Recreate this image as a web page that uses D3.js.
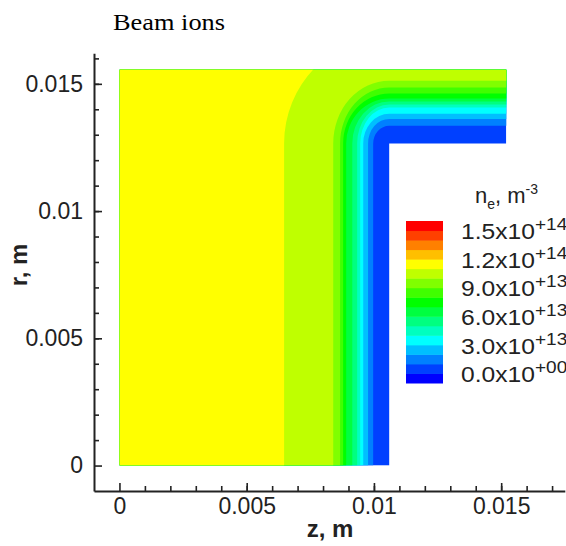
<!DOCTYPE html>
<html>
<head>
<meta charset="utf-8">
<script src="https://cdn.jsdelivr.net/npm/d3@7"></script>
<style>
body { margin: 0; background: #fff; }
svg { display: block; }
.axis text { font-family: 'Liberation Sans', Arial, sans-serif; font-size: 23px; fill: #222; }
.axis path { stroke: #222; stroke-width: 2; }
.axis line { stroke: #222; stroke-width: 1.6; }
.label { font-family: 'Liberation Sans', Arial, sans-serif; font-size: 24px; font-weight: bold; fill: #222; }
.legend text { font-family: 'Liberation Sans', Arial, sans-serif; fill: #222; }
</style>
</head>
<body>
<svg width="566" height="546"></svg>
<script>
// computed region (m): z from 0 to end, r from 0 to top, minus the wall notch
const domainZ = [0, 0.0152];
const domainR = [0, 0.01555];
const wallCorner = [0.0106, 0.01266];

// density levels (x1e13 m^-3) and the distance from the wall where each is reached
const wallBand = 1;
const levels = [2, 3, 4, 5, 6, 7, 8, 9, 10, 11, 12];
const levelDistZ = [0.00063, 0.00083, 0.00102, 0.00114, 0.00126, 0.00145, 0.00169, 0.00181, 0.00193, 0.0022, 0.00413];
const levelDistR = [0.00069, 0.00096, 0.00116, 0.00141, 0.00153, 0.00165, 0.00176, 0.00196, 0.0022, 0.00246, 0.0042];

// legend
const legendLevels = [0, 1, 2, 3, 4, 5, 6, 7, 8, 9, 10, 11, 12, 13, 14, 15, 16];
const legendLabels = [
    { level: 0, mant: '0.0', exp: '+00' },
    { level: 3, mant: '3.0', exp: '+13' },
    { level: 6, mant: '6.0', exp: '+13' },
    { level: 9, mant: '9.0', exp: '+13' },
    { level: 12, mant: '1.2', exp: '+14' },
    { level: 15, mant: '1.5', exp: '+14' }
];

const zTicks = [0, 0.005, 0.01, 0.015];
const rTicks = [0, 0.005, 0.01, 0.015];

const svg = d3.select('svg');

const x = d3.scaleLinear().domain([-0.001, 0.0175]).range([94, 564.8]);
const y = d3.scaleLinear().domain([-0.001, 0.0162]).range([491, 53.3]);

// tecplot-like rainbow
const color = d3.scaleLinear()
    .domain([0, 4, 8, 12, 16])
    .range(['#0000ff', '#00ffff', '#00ff00', '#ffff00', '#ff0000']);

// L-shaped region clip
const x0 = x(domainZ[0]), x1 = x(domainZ[1]);
const y0 = y(domainR[0]), y1 = y(domainR[1]);
const cx = x(wallCorner[0]), cy = y(wallCorner[1]);

svg.append('defs').append('clipPath')
    .attr('id', 'region')
    .append('path')
    .attr('d', `M${x0},${y0}L${cx},${y0}L${cx},${cy}L${x1},${cy}L${x1},${y1}L${x0},${y1}Z`);

const field = svg.append('g').attr('clip-path', 'url(#region)');

field.append('rect')
    .attr('x', x0)
    .attr('y', y1)
    .attr('width', x1 - x0)
    .attr('height', y0 - y1)
    .attr('fill', color(wallBand));

function bandPath(dz, dr) {
    const rx = x(dz) - x(0);
    const ry = y(0) - y(dr);
    const top = y1 - 40;
    return `M${x0},${y0}L${cx - rx},${y0}L${cx - rx},${cy}` +
        `A${rx},${ry} 0 0 1 ${cx},${cy - ry}` +
        `L${x1 + 5},${cy - ry}L${x1 + 5},${top}L${x0},${top}Z`;
}

field.selectAll('path.band')
    .data(levels)
    .enter()
    .append('path')
    .attr('class', 'band')
    .attr('d', (l, i) => bandPath(levelDistZ[i], levelDistR[i]))
    .attr('fill', (l) => color(l));

// axes
const fmt = d3.format('~g');

svg.append('g')
    .attr('class', 'axis')
    .attr('transform', `translate(0, ${y(-0.001)})`)
    .call(d3.axisBottom(x)
        .tickValues(d3.range(1, 18).map((d) => d / 1000))
        .tickSizeInner(-5)
        .tickSizeOuter(0)
        .tickFormat(''));

svg.append('g')
    .attr('class', 'axis')
    .attr('transform', `translate(${x(-0.001)}, 0)`)
    .call(d3.axisLeft(y)
        .tickValues(d3.range(1, 17).map((d) => d / 1000))
        .tickSizeInner(-5)
        .tickSizeOuter(0)
        .tickFormat(''));

svg.append('g')
    .attr('class', 'axis')
    .attr('transform', `translate(0, ${y(-0.001)})`)
    .call(d3.axisBottom(x)
        .tickValues(zTicks)
        .tickSizeInner(-8)
        .tickSizeOuter(0)
        .tickPadding(7)
        .tickFormat(fmt))
    .call((g) => g.select('.domain').remove());

svg.append('g')
    .attr('class', 'axis')
    .attr('transform', `translate(${x(-0.001)}, 0)`)
    .call(d3.axisLeft(y)
        .tickValues(rTicks)
        .tickSizeInner(-8)
        .tickSizeOuter(0)
        .tickPadding(11)
        .tickFormat(fmt))
    .call((g) => g.select('.domain').remove());

svg.append('text')
    .attr('class', 'label')
    .attr('x', 330)
    .attr('y', 537)
    .attr('text-anchor', 'middle')
    .text('z, m');

svg.append('text')
    .attr('class', 'label')
    .attr('transform', 'translate(27, 265) rotate(-90)')
    .attr('text-anchor', 'middle')
    .text('r, m');

svg.append('text')
    .attr('x', 113)
    .attr('y', 30)
    .attr('font-family', "'Liberation Serif', 'Times New Roman', serif")
    .attr('font-size', 24)
    .attr('fill', '#000')
    .attr('textLength', 112)
    .attr('lengthAdjust', 'spacingAndGlyphs')
    .text('Beam ions');

// legend
const ly = d3.scaleLinear().domain([0, 17]).range([383, 221]);
const legend = svg.append('g').attr('class', 'legend');

legend.selectAll('rect')
    .data(legendLevels)
    .enter()
    .append('rect')
    .attr('x', 406)
    .attr('y', (l) => ly(l + 1))
    .attr('width', 37)
    .attr('height', (l) => ly(l) - ly(l + 1) + 0.5)
    .attr('fill', (l) => color(l));

const lab = legend.selectAll('text.lab')
    .data(legendLabels)
    .enter()
    .append('text')
    .attr('class', 'lab')
    .attr('transform', (d) => `translate(461, ${ly(d.level + 0.5) + 4}) scale(1.12, 1)`)
    .attr('font-size', 22);
lab.append('tspan').text((d) => `${d.mant}x10`);
lab.append('tspan')
    .attr('dy', -9)
    .attr('font-size', 17)
    .text((d) => d.exp);

const head = legend.append('text')
    .attr('x', 475)
    .attr('y', 203)
    .attr('font-size', 22);
head.append('tspan').text('n');
head.append('tspan').attr('dy', 6).attr('font-size', 14).text('e');
head.append('tspan').attr('dy', -6).text(', m');
head.append('tspan').attr('dy', -9).attr('font-size', 14).text('-3');
</script>
</body>
</html>
